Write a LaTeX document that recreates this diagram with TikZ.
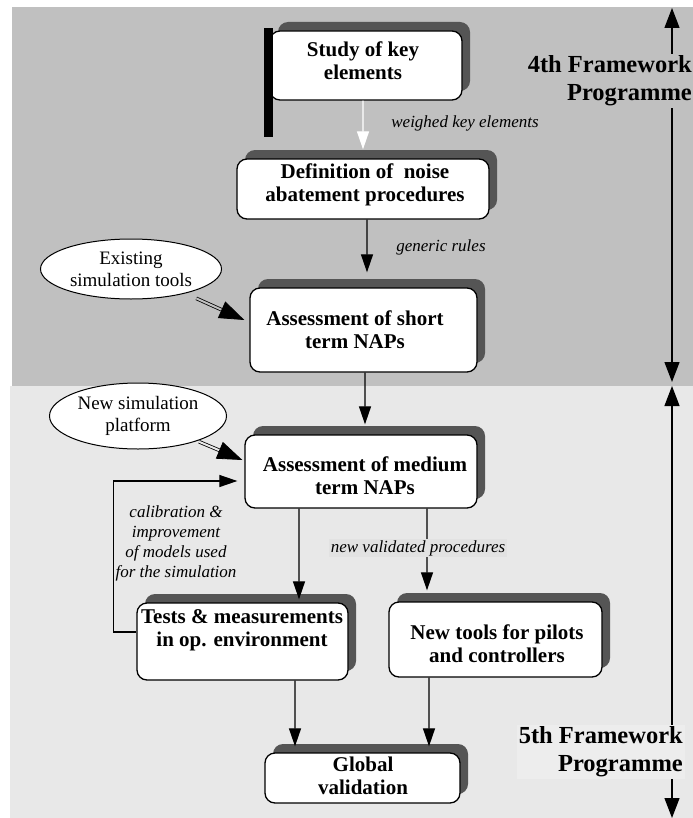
\documentclass[tikz,border=0pt]{standalone}
\usepackage{fontspec}
\setmainfont{Liberation Serif}
\usetikzlibrary{arrows.meta,shadows,calc,shapes.geometric}

\definecolor{bgtop}{HTML}{C0C0C0}
\definecolor{bgbot}{HTML}{E8E8E8}
\definecolor{shade}{HTML}{555555}
\definecolor{lblbg}{HTML}{E2E2E2}
\definecolor{fwbg}{HTML}{EDEDED}

\begin{document}
\begin{tikzpicture}[x=1bp, y=-1bp,
  box/.style={draw=black, line width=1.3bp, fill=white, rounded corners=10bp, inner sep=0pt,
    drop shadow={shadow xshift=8bp, shadow yshift=9bp, opacity=1, fill=shade}},
  boxtext/.style={font=\fontsize{21bp}{23bp}\selectfont\bfseries, align=center, inner sep=0pt},
  ell/.style={ellipse, draw=black, line width=1bp, fill=white, inner sep=0pt, align=center,
    font=\fontsize{19bp}{22bp}\selectfont},
  lbl/.style={font=\fontsize{17bp}{20bp}\selectfont\itshape, align=center, inner sep=1.5bp},
  fwlabel/.style={font=\fontsize{24.5bp}{28bp}\selectfont\bfseries, align=right,
    inner xsep=2bp, inner ysep=2bp, anchor=east},
  arr/.style={line width=1.2bp, -{Triangle[length=18bp,width=12bp]}},
  fwarr/.style={line width=1.2bp,
    {Triangle[length=20bp,width=15bp]}-{Triangle[length=20bp,width=15bp]}},
  dbl/.style={double=#1, double distance=2bp, line width=0.8bp},
  dhead/.style={line width=0.8bp, -{Triangle[length=25bp,width=18bp]}},
]
% canvas and the two programme bands
\useasboundingbox (0,0) rectangle (693,818);
\fill[white] (0,0) rectangle (693,818);
\fill[bgtop] (12,7) rectangle (693,386);
\fill[bgbot] (10,386) rectangle (693,818);

% programme spans on the right
\coordinate (u1) at (672,8);
\coordinate (u2) at (672,382);
\coordinate (l1) at (672,386);
\coordinate (l2) at (672,818);
\draw[fwarr] (u2) -- (u1);
\draw[fwarr] (l1) -- (l2);
\node[fwlabel, fill=bgtop] (fw4) at (694,81) {4th Framework\\Programme};
\node[fwlabel, fill=fwbg] (fw5) at (685,752) {5th Framework\\Programme};

% simulation tools
\node[ell, minimum width=181bp, minimum height=60bp] (ex) at (131,269) {Existing\\simulation tools};
\node[ell, minimum width=177bp, minimum height=66bp] (np) at (138,416) {New simulation\\platform};

% process boxes
\node[box, minimum width=192bp, minimum height=69bp] (sk) at (366,65.5) {};
\node[boxtext] (skt) at (363,61) {Study of key\\elements};
\fill[black] (264,28) rectangle (273,137);

\node[box, minimum width=252bp, minimum height=60bp] (def) at (363,189) {};
\node[boxtext] (deft) at (365,185) {Definition of~ noise\\abatement procedures};

\node[box, minimum width=227bp, minimum height=84bp] (short) at (363.5,330) {};
\node[boxtext] (shortt) at (355,330) {Assessment of short\\term NAPs};

\node[box, minimum width=232bp, minimum height=73bp] (med) at (361,471.5) {};
\node[boxtext] (medt) at (365,476) {Assessment of medium\\term NAPs};

\node[box, minimum width=211bp, minimum height=77bp] (tests) at (242.5,641.5) {};
\node[boxtext] (testst) at (242,630) {Tests \& measurements\\in op. environment};

\node[box, minimum width=213bp, minimum height=75bp] (tools) at (495.5,639.5) {};
\node[boxtext] (toolst) at (497,644) {New tools for pilots\\and controllers};

\node[box, minimum width=195bp, minimum height=50bp] (glob) at (362.5,778) {};
\node[boxtext] (globt) at (363,776) {Global\\validation};

% flow between boxes
\draw[arr, white, shorten >=9bp] ([xshift=-3bp]sk.south) -- (def.north);
\node[lbl] (wk) at (465,123) {weighed key elements};

\draw[arr, shorten >=15bp] ([xshift=4bp]def.south) -- ([xshift=3.5bp]short.north);
\node[lbl] (gr) at (441,247) {generic rules};

\draw[arr, shorten >=10bp] ([xshift=1.5bp]short.south) -- ([xshift=4bp]med.north);

\draw[arr, shorten >=3bp] ([xshift=-62bp]med.south) -- ([xshift=56.5bp]tests.north);
\draw[arr, shorten >=11bp] ([xshift=66bp]med.south) -- ([xshift=-68.5bp]tools.north);
\node[lbl, fill=lblbg] (nv) at (418,548) {new validated procedures};

\draw[arr, shorten >=6bp] ([xshift=52.5bp]tests.south) -- ([xshift=-67.5bp]glob.north);
\draw[arr, shorten >=6bp] ([xshift=-66.5bp]tools.south) -- ([xshift=66.5bp]glob.north);

% feedback loop from the field tests
\draw[arr, shorten >=7bp] ([yshift=9.5bp]tests.west) -- ++(-23,0) |- ([yshift=-9.5bp]med.west);
\node[lbl] (cal) at (176,543) {calibration \&\\improvement\\of models used\\for the simulation};

% tool inputs (double arrows)
\coordinate (t1) at ([xshift=-5bp,yshift=10bp]short.west);
\draw[dbl=bgtop, shorten <=12bp, shorten >=18bp] (ex) -- (t1);
\draw[dhead] ($(t1)!24bp!(ex)$) -- (t1);

\coordinate (t2) at ([xshift=-2bp,yshift=11.5bp]med.west);
\draw[dbl=bgbot, shorten <=2bp, shorten >=18bp] (np) -- (t2);
\draw[dhead] ($(t2)!24bp!(np)$) -- (t2);
\end{tikzpicture}
\end{document}
